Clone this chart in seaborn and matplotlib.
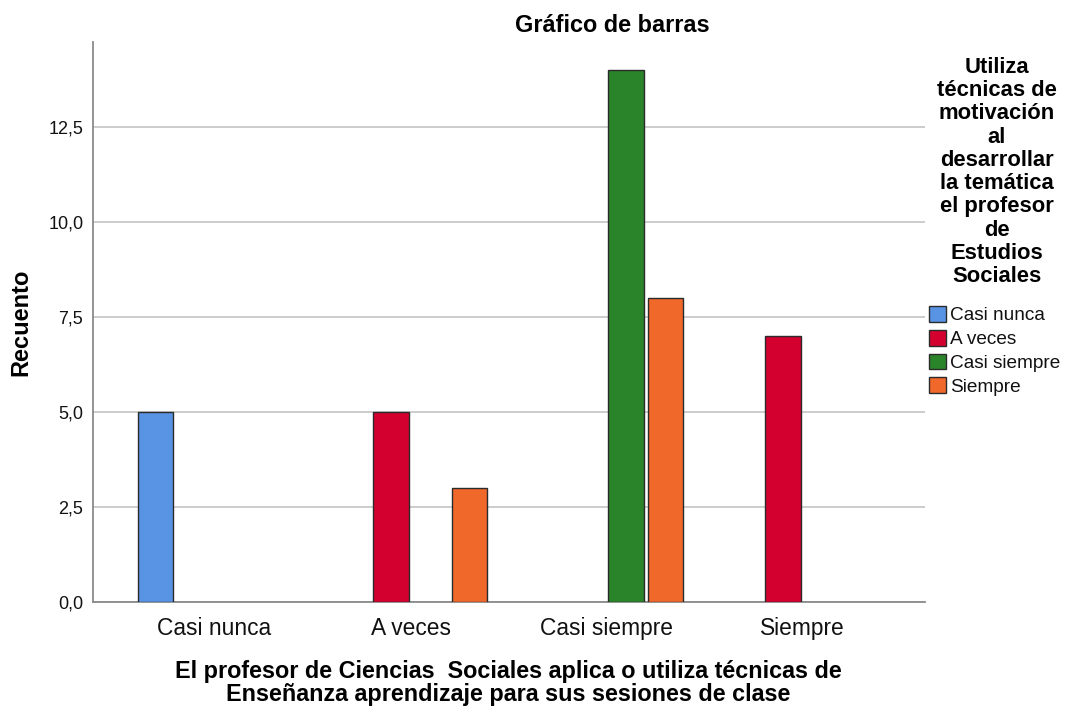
import matplotlib
matplotlib.use("Agg")
import matplotlib.pyplot as plt
import seaborn as sns
import pandas as pd
from matplotlib.patches import Patch
from matplotlib.ticker import FuncFormatter, MultipleLocator

categories = ["Casi nunca", "A veces", "Casi siempre", "Siempre"]
hue_levels = ["Casi nunca", "A veces", "Casi siempre", "Siempre"]
# counts per x category, one list per hue level (0 = no bar)
counts_casi_nunca = [5, 0, 0, 0]
counts_a_veces = [0, 5, 0, 7]
counts_casi_siempre = [0, 0, 14, 0]
counts_siempre = [0, 3, 8, 0]
colors = ["#5894E3", "#D3002F", "#2A8429", "#F0692B"]

rows = []
for lvl, vals in zip(hue_levels, [counts_casi_nunca, counts_a_veces, counts_casi_siempre, counts_siempre]):
    for cat, v in zip(categories, vals):
        if v > 0:
            rows.append({"x": cat, "hue": lvl, "n": v})
df = pd.DataFrame(rows)

sns.set_theme(style="white")
plt.rcParams["font.family"] = ["Liberation Sans", "DejaVu Sans"]

fig = plt.figure(figsize=(10.65, 7.09), dpi=100)
ax = fig.add_axes([93/1065, 1-602/709, (925-93)/1065, (602-42)/709])

sns.barplot(data=df, x="x", y="n", hue="hue", order=categories, hue_order=hue_levels,
            palette=colors, saturation=1, width=0.8, gap=0.1, edgecolor="#2b2b2b",
            linewidth=1.0, errorbar=None, legend=False, ax=ax, zorder=3)

ax.set_xlim(-0.62, 3.625)
ax.set_ylim(0, 14.74)
ax.yaxis.set_major_locator(MultipleLocator(2.5))
ax.yaxis.set_major_formatter(FuncFormatter(lambda v, p: f"{v:.1f}".replace(".", ",")))
ax.grid(axis="y", color="#c8c8c8", linewidth=1.3, zorder=0)
ax.set_axisbelow(True)
for s in ["top", "right"]:
    ax.spines[s].set_visible(False)
for s in ["left", "bottom"]:
    ax.spines[s].set_color("#8a8a8a")
    ax.spines[s].set_linewidth(1.3)
ax.tick_params(axis="y", labelsize=13, length=0, pad=7, colors="#111111")
ax.tick_params(axis="x", labelsize=16.4, length=0, pad=11, colors="#111111")

ax.set_xlabel("")
ax.set_ylabel("Recuento", fontsize=17, fontweight="bold", color="#000000")
ax.yaxis.set_label_coords((32-93)/832, 0.5)

fig.text(612/1065, 1-25/709, "Gráfico de barras", ha="center", va="center",
         fontsize=16.9, fontweight="bold", color="#000000")
fig.text(508/1065, 1-683/709,
         "El profesor de Ciencias  Sociales aplica o utiliza técnicas de\nEnseñanza aprendizaje para sus sesiones de clase",
         ha="center", va="center", fontsize=16.8, fontweight="bold", linespacing=1.05,
         color="#000000")

fig.text(997/1065, 1-172/709,
         "Utiliza\ntécnicas de\nmotivación\nal\ndesarrollar\nla temática\nel profesor\nde\nEstudios\nSociales",
         ha="center", va="center", fontsize=15.8, fontweight="bold", linespacing=1.14,
         color="#000000")

handles = [Patch(facecolor=c, edgecolor="#2b2b2b", linewidth=1.0) for c in colors]
leg = fig.legend(handles, hue_levels, loc="upper left", bbox_to_anchor=(929/1065, 1-306/709),
                 frameon=False, fontsize=13.7, handlelength=0.9, handleheight=0.9,
                 handletextpad=0.2, labelspacing=0.28, borderaxespad=0, borderpad=0)
for t in leg.get_texts():
    t.set_color("#111111")

fig.savefig("out.png", dpi=100)
